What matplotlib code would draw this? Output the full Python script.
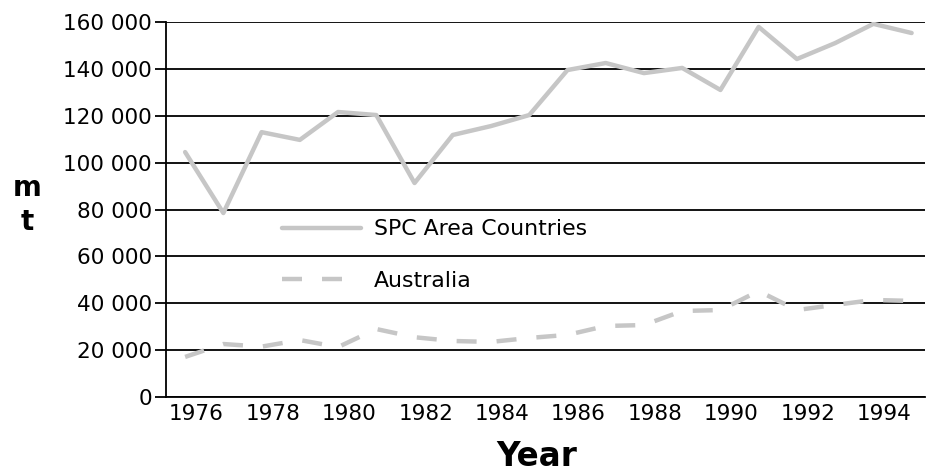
import matplotlib
matplotlib.use("Agg")
import matplotlib.pyplot as plt
import matplotlib.transforms as mtransforms
from matplotlib.ticker import FuncFormatter

# === Data ===
years = list(range(1976, 1996))
spc = [104500, 78500, 113000, 109700, 121600, 120300, 91300, 111800, 115600, 120300,
       139500, 142500, 138200, 140400, 131000, 157900, 144200, 151000, 159200, 155300]
australia = [17100, 22600, 21500, 24300, 21300, 29000, 25500, 23900, 23500, 25200,
             26500, 30300, 30700, 36700, 37100, 45200, 37100, 39300, 41400, 41000]
xtick_years = list(range(1976, 1995, 2))
yticks = list(range(0, 160001, 20000))

plt.rcParams['font.family'] = ['DejaVu Sans']

fig = plt.figure(figsize=(9.27, 4.72), dpi=100)
ax = fig.add_axes([166 / 927, 75 / 472, 759 / 927, 375 / 472])

grey = '#c6c6c6'
ax.plot(years, spc, color=grey, lw=3.2, label='SPC Area Countries', solid_capstyle='round')
ax.plot(years, australia, color=grey, lw=3.2, ls=(0, (4.5, 4.5)), label='Australia')

ax.set_xlim(1975.5, 1995.35)
ax.set_ylim(0, 160000)
ax.set_yticks(yticks)
ax.yaxis.set_major_formatter(FuncFormatter(lambda v, p: f"{int(v):,}".replace(',', ' ')))
ax.set_xticks(xtick_years)
ax.set_xticklabels([str(y) for y in xtick_years])

ax.grid(axis='y', color='black', lw=1.3)
ax.set_axisbelow(True)
for s in ['top', 'right']:
    ax.spines[s].set_visible(False)
ax.spines['left'].set_linewidth(1.3)
ax.spines['bottom'].set_linewidth(1.3)

ax.tick_params(axis='y', labelsize=15.5, length=8, width=1.3, pad=2)
ax.tick_params(axis='x', labelsize=15.5, length=0, pad=5)
off = mtransforms.ScaledTranslation(8 / 72, 0, fig.dpi_scale_trans)
for lab in ax.get_xticklabels():
    lab.set_transform(lab.get_transform() + off)

ax.set_xlabel('Year', fontsize=23.5, fontweight='bold')
ax.xaxis.set_label_coords((537 - 166) / 759, -(456 - 397) / 375)
ax.xaxis.label.set_va('center')
fig.text(27 / 927, 1 - 205 / 472, 'm\nt', fontsize=20, fontweight='bold',
         ha='center', va='center', linespacing=1.25)

leg = ax.legend(loc='upper left', bbox_to_anchor=(0.153, 0.474), frameon=False,
                fontsize=15.8, handlelength=3.6, handletextpad=0.6, labelspacing=1.43,
                borderaxespad=0, borderpad=0)

fig.savefig('out.png', dpi=100)
